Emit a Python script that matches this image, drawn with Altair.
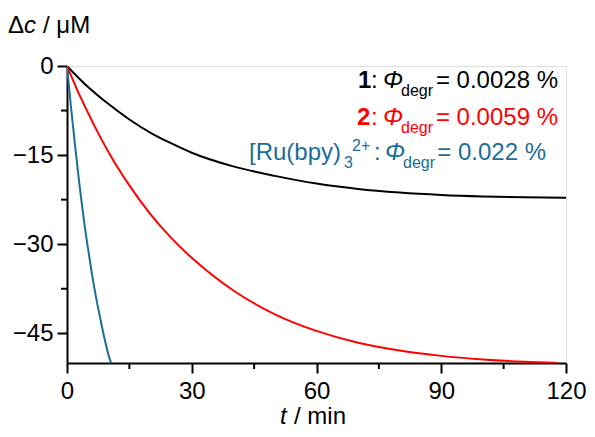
import altair as alt
import pandas as pd

# ---- data ----
t_black = [0, 2.5, 5, 7.5, 10, 15, 20, 25, 30, 40, 50, 60, 70, 80, 90, 100, 110, 120]
c_black = [0, -1.8, -3.5, -5.0, -6.4, -9.0, -11.2, -13.0, -14.6, -16.9, -18.5, -19.8, -20.7, -21.3, -21.7, -21.95, -22.1, -22.2]

t_red = [0, 2.5, 5, 7.5, 10, 15, 20, 25, 30, 40, 50, 60, 70, 80, 90, 100, 110, 118]
c_red = [0, -4.1, -7.8, -11.3, -14.5, -20.1, -24.9, -28.9, -32.3, -37.8, -41.8, -44.6, -46.6, -47.9, -48.8, -49.4, -49.8, -50.0]

t_blue = [0, 1, 2, 3, 4, 5, 6, 7, 8, 9, 10, 10.6]
c_blue = [0, -7.2, -13.8, -20.0, -25.6, -30.5, -35.0, -39.0, -42.5, -45.8, -48.7, -50.0]

series_names = ["1", "2", "Ru"]
series_colors = ["#000000", "#ff0000", "#1d6d96"]

x_major = [0, 30, 60, 90, 120]
x_minor = [15, 45, 75, 105]
y_major = [0, -15, -30, -45]
y_minor = [-7.5, -22.5, -37.5]

rows = []
for name, ts, cs in zip(series_names, [t_black, t_red, t_blue], [c_black, c_red, c_blue]):
    for t, c in zip(ts, cs):
        rows.append({"t": t, "c": c, "s": name})
df = pd.DataFrame(rows)

FONT = "Liberation Sans"
FS = 24
W, H = 499, 297

x_axis = alt.Axis(values=x_major, tickSize=10, tickWidth=2, tickColor="black",
                  domainColor="black", domainWidth=2, labelFontSize=FS, labelFont=FONT,
                  labelColor="black", labelPadding=6, grid=False, title=None,
                  labelFlush=False)
y_axis = alt.Axis(values=y_major, tickSize=10, tickWidth=2, tickColor="black",
                  domainColor="black", domainWidth=2, labelFontSize=FS, labelFont=FONT,
                  labelColor="black", labelPadding=4, grid=False, title=None,
                  labelExpr="replace(datum.label, '-', '\u2212')")
x_scale = alt.Scale(domain=[0, 120], nice=False)
y_scale = alt.Scale(domain=[-50, 0], nice=False)

X = alt.X("t:Q", scale=x_scale, axis=x_axis)
Y = alt.Y("c:Q", scale=y_scale, axis=y_axis)

lines = alt.Chart(df).mark_line(strokeWidth=2, interpolate="monotone", clip=True).encode(
    x=X, y=Y,
    color=alt.Color("s:N", scale=alt.Scale(domain=series_names, range=series_colors), legend=None),
    detail="s:N",
)

ymin = alt.Chart(pd.DataFrame({"c": y_minor})).mark_rule(color="black", strokeWidth=2).encode(
    y=Y, x=alt.value(0), x2=alt.value(-6))
xmin = alt.Chart(pd.DataFrame({"t": x_minor})).mark_rule(color="black", strokeWidth=2).encode(
    x=X, y=alt.value(H), y2=alt.value(H + 6))


def txt(s, x, y, size=FS, color="black", style="normal", weight="normal", align="left"):
    return alt.Chart(pd.DataFrame({"s": [s]})).mark_text(
        font=FONT, fontSize=size, color=color, fontStyle=style, fontWeight=weight,
        align=align, baseline="alphabetic").encode(
        text="s:N", x=alt.value(x), y=alt.value(y))


SUB = 16
BLUE = "#1d6d96"
RED = "#ff0000"
texts = [
    # y title  Δc / μM
    txt("\u0394", -59, -33),
    txt("c", -43, -33, style="italic"),
    txt("/ \u03bcM", -24, -33),
    # x title  t / min
    txt("t", 213, 358, style="italic"),
    txt("/ min", 227, 358),
    # line 1
    txt("1", 291, 22, weight="bold"),
    txt(":", 304, 22),
    txt("\u03a6", 316, 22, style="italic"),
    txt("degr", 334, 30, size=SUB),
    txt("= 0.0028 %", 491, 22, align="right"),
    # line 2
    txt("2", 290, 59, color=RED, weight="bold"),
    txt(":", 304, 59, color=RED),
    txt("\u03a6", 316, 59, color=RED, style="italic"),
    txt("degr", 334, 67, size=SUB, color=RED),
    txt("= 0.0059 %", 491, 59, color=RED, align="right"),
    # line 3
    txt("[Ru(bpy)", 182, 94, color=BLUE),
    txt("3", 277, 102, size=SUB, color=BLUE),
    txt("2+", 285, 85, size=SUB, color=BLUE),
    txt(":", 307, 94, color=BLUE),
    txt("\u03a6", 318, 94, color=BLUE, style="italic"),
    txt("degr", 336, 102, size=SUB, color=BLUE),
    txt("= 0.022 %", 479, 94, color=BLUE, align="right"),
]

chart = alt.layer(lines, ymin, xmin, *texts).properties(
    width=W, height=H,
    autosize=alt.AutoSizeParams(type="none"),
    padding={"left": 59, "top": 58, "right": 21, "bottom": 66},
).configure_view(stroke=None).configure(background="white")

chart.save("out.html", embed_options={"renderer": "svg", "actions": False})
